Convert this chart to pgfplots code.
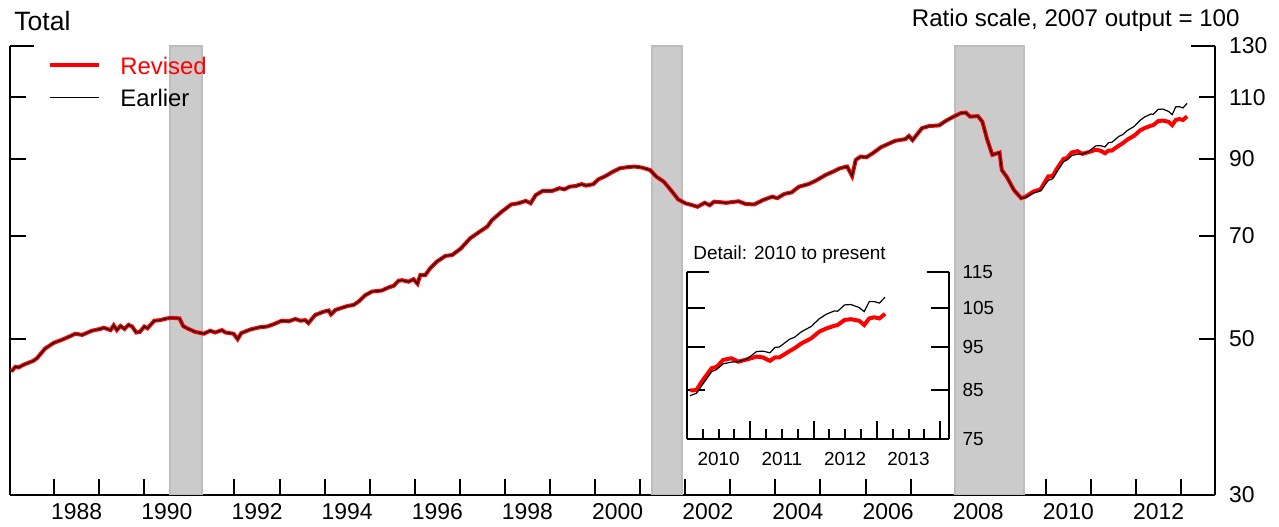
\documentclass[border=0pt]{standalone}
\usepackage{pgfplots}
\pgfplotsset{compat=1.18}
\usepackage{pgfplotstable}
\usepackage{fontspec}
\setmainfont{Liberation Sans}

\definecolor{recess}{HTML}{CBCBCB}
\definecolor{recessedge}{HTML}{BDBDBD}

% index, 2007 output = 100
\pgfplotstableread{
t rev earl
1987.05 44.9 44.9
1987.14 45.6 45.6
1987.21 45.5 45.5
1987.32 45.9 45.9
1987.54 46.5 46.5
1987.62 46.9 46.9
1987.80 48.4 48.4
1987.99 49.3 49.3
1988.17 49.8 49.8
1988.36 50.4 50.4
1988.47 50.8 50.8
1988.62 50.6 50.6
1988.84 51.3 51.3
1989.02 51.6 51.6
1989.10 51.8 51.8
1989.25 51.4 51.4
1989.32 52.2 52.2
1989.39 51.4 51.4
1989.47 52.1 52.1
1989.56 51.6 51.6
1989.65 52.3 52.3
1989.73 52.0 52.0
1989.82 51.0 51.0
1989.90 51.1 51.1
1990.00 52.0 52.0
1990.07 51.7 51.7
1990.22 53.0 53.0
1990.35 53.1 53.1
1990.50 53.4 53.4
1990.61 53.5 53.5
1990.78 53.4 53.4
1990.86 52.1 52.1
1990.95 51.7 51.7
1991.13 51.1 51.1
1991.32 50.8 50.8
1991.46 51.3 51.3
1991.57 51.0 51.0
1991.72 51.4 51.4
1991.80 51.0 51.0
1991.98 50.8 50.8
1992.07 49.9 49.9
1992.15 50.9 50.9
1992.35 51.5 51.5
1992.57 51.9 51.9
1992.72 52.0 52.0
1992.87 52.4 52.4
1993.05 53.0 53.0
1993.20 52.9 52.9
1993.35 53.3 53.3
1993.46 53.0 53.0
1993.57 53.1 53.1
1993.64 52.6 52.6
1993.79 54.0 54.0
1993.98 54.6 54.6
1994.09 54.8 54.8
1994.14 54.1 54.1
1994.24 54.9 54.9
1994.35 55.2 55.2
1994.50 55.6 55.6
1994.64 55.8 55.8
1994.75 56.4 56.4
1994.90 57.6 57.6
1995.05 58.3 58.3
1995.27 58.5 58.5
1995.42 59.1 59.1
1995.53 59.4 59.4
1995.64 60.4 60.4
1995.72 60.5 60.5
1995.86 60.2 60.2
1995.97 60.7 60.7
1996.06 59.8 59.8
1996.12 61.5 61.5
1996.23 61.5 61.5
1996.34 62.9 62.9
1996.49 64.3 64.3
1996.68 65.5 65.5
1996.83 65.7 65.7
1997.02 67.1 67.1
1997.23 69.4 69.4
1997.44 70.9 70.9
1997.61 72.1 72.1
1997.71 73.6 73.6
1997.93 75.7 75.7
1998.14 77.5 77.5
1998.30 77.8 77.8
1998.46 78.4 78.4
1998.57 77.8 77.8
1998.68 79.9 79.9
1998.84 81.0 81.0
1999.05 81.0 81.0
1999.21 81.7 81.7
1999.32 81.4 81.4
1999.43 82.1 82.1
1999.57 82.3 82.3
1999.70 82.8 82.8
1999.80 82.4 82.4
1999.96 82.8 82.8
2000.07 84.1 84.1
2000.23 85.0 85.0
2000.39 86.2 86.2
2000.55 87.2 87.2
2000.71 87.5 87.5
2000.87 87.7 87.7
2001.04 87.4 87.4
2001.22 86.7 86.7
2001.36 84.8 84.8
2001.52 83.5 83.5
2001.68 81.2 81.2
2001.84 78.8 78.8
2002.00 77.8 77.8
2002.16 77.3 77.3
2002.27 76.9 76.9
2002.43 77.9 77.9
2002.54 77.3 77.3
2002.64 78.2 78.2
2002.91 77.9 77.9
2003.18 78.3 78.3
2003.34 77.6 77.6
2003.53 77.5 77.5
2003.72 78.6 78.6
2003.93 79.5 79.5
2004.04 79.1 79.1
2004.20 80.2 80.2
2004.36 80.6 80.6
2004.52 82.1 82.1
2004.73 82.8 82.8
2004.89 83.7 83.7
2005.11 85.3 85.3
2005.27 86.2 86.2
2005.43 87.2 87.2
2005.59 87.7 87.7
2005.70 85.0 85.0
2005.78 89.6 89.6
2005.89 90.6 90.6
2006.02 90.4 90.4
2006.18 91.8 91.8
2006.34 93.4 93.4
2006.50 94.4 94.4
2006.66 95.4 95.4
2006.88 95.9 95.9
2006.96 96.9 96.9
2007.04 95.6 95.6
2007.25 99.4 99.4
2007.41 100.1 100.1
2007.63 100.3 100.3
2007.79 101.9 101.9
2007.95 103.2 103.2
2008.11 104.4 104.4
2008.22 104.6 104.6
2008.32 103.2 103.2
2008.49 103.4 103.4
2008.59 101.5 101.5
2008.70 95.6 95.6
2008.81 91.1 91.1
2008.97 91.8 91.8
2009.02 86.7 86.7
2009.13 84.8 84.8
2009.29 81.2 81.2
2009.45 79.1 79.1
2009.55 79.5 79.3
2009.72 80.8 80.4
2009.88 81.4 81.0
2010.05 84.9 83.8
2010.15 85.0 84.3
2010.23 86.8 85.9
2010.39 89.9 89.1
2010.47 90.2 89.6
2010.57 91.8 90.9
2010.70 92.2 91.3
2010.81 91.4 91.4
2010.94 91.9 92.0
2011.10 92.6 93.8
2011.20 92.4 93.9
2011.31 91.6 93.5
2011.39 92.4 94.8
2011.46 92.4 94.9
2011.62 93.9 96.8
2011.70 94.6 97.3
2011.81 95.8 98.7
2011.96 97.0 100.0
2012.09 98.7 102.0
2012.20 99.5 103.2
2012.33 100.2 104.1
2012.38 100.4 104.0
2012.49 101.7 105.7
2012.59 101.9 105.8
2012.72 101.5 105.0
2012.80 100.4 103.9
2012.88 102.1 106.6
2012.96 102.4 106.6
2013.04 102.1 106.2
2013.13 103.3 107.8
}\ipdata

\begin{document}
\begin{tikzpicture}
\useasboundingbox (0,0) rectangle (639.5bp,263.5bp);

\node[anchor=west, inner sep=0pt, font=\fontsize{13.3}{15}\selectfont] at (7bp,253bp) {Total};
\node[anchor=east, inner sep=0pt, font=\fontsize{12.1}{14}\selectfont] at (620bp,253.5bp) {Ratio scale, 2007 output = 100};

\begin{axis}[
    at={(5bp,16bp)}, anchor=south west,
    scale only axis, width=602.5bp, height=224.5bp,
    xmin=1987.02, xmax=2013.75,
    ymode=log, ymin=30, ymax=130,
    axis x line=bottom, axis y line=box,
    axis line style={-, line width=1bp},
    x axis line style={-}, y axis line style={-},
    tick align=inside,
    tick style={black, line width=1bp},
    major tick length=8bp,
    xtick={1988,...,2013},
    xticklabels={1988,,1990,,1992,,1994,,1996,,1998,,2000,,2002,,2004,,2006,,2008,,2010,,2012,},
    xticklabel style={xshift=11.27bp, yshift=-0.8bp},
    ytick={30,50,70,90,110},
    yticklabels={30,50,70,90,110},
    extra y ticks={130}, extra y tick labels={130},
    extra y tick style={major tick length=12bp},
    ytick pos=both, yticklabel pos=right,
    yticklabel style={xshift=3.5bp},
    tick label style={font=\fontsize{11.5}{13}\selectfont},
    legend style={draw=none, fill=none, inner sep=0pt,
        at={(0.0315,0.9746)}, anchor=north west,
        font=\fontsize{12}{14}\selectfont,
        nodes={inner sep=0pt, text height=8.3bp, text depth=2bp},
        row sep=6bp, column sep=9.5bp},
    legend cell align=left,
    legend image code/.code={\draw[#1] (0bp,1.6bp) -- (24.5bp,1.6bp);},
]
\addplot[fill=recess, draw=recessedge, line width=1bp, forget plot]
    coordinates {(1990.58,30) (1990.58,130) (1991.28,130) (1991.28,30)} -- cycle;
\addplot[fill=recess, draw=recessedge, line width=1bp, forget plot]
    coordinates {(2001.25,30) (2001.25,130) (2001.93,130) (2001.93,30)} -- cycle;
\addplot[fill=recess, draw=recessedge, line width=1bp, forget plot]
    coordinates {(2007.99,30) (2007.99,130) (2009.52,130) (2009.52,30)} -- cycle;

\addplot[red, line width=2bp] table[x=t, y=rev] {\ipdata};
\addplot[black, line width=0.6bp] table[x=t, y=earl] {\ipdata};
\legend{\textcolor{red}{Revised}, Earlier}
\end{axis}

\node[anchor=west, inner sep=0pt, font=\fontsize{9.5}{11}\selectfont] at (346.5bp,136bp) {Detail: 2010 to present};

\begin{axis}[
    at={(343.5bp,44bp)}, anchor=south west,
    scale only axis, width=131bp, height=83.5bp,
    xmin=2010, xmax=2014.14,
    ymode=log, ymin=75, ymax=115,
    axis x line=bottom, axis y line=box,
    axis line style={-, line width=1bp},
    x axis line style={-}, y axis line style={-},
    tick align=inside,
    tick style={black, line width=1bp},
    major tick length=9bp, minor tick length=5bp,
    xtick={2011,2012,2013,2014},
    xticklabels={2010,2011,2012,2013},
    xticklabel style={xshift=-15.83bp, yshift=-3bp},
    minor xtick={2010.25,2010.5,2010.75,2011.25,2011.5,2011.75,2012.25,2012.5,2012.75,2013.25,2013.5,2013.75},
    ytick={75,85,95,105},
    yticklabels={75,85,95,105},
    extra y ticks={115}, extra y tick labels={115},
    extra y tick style={major tick length=11bp},
    ytick pos=both, yticklabel pos=right,
    yticklabel style={xshift=3.3bp},
    tick label style={font=\fontsize{9.5}{11}\selectfont},
]
\addplot[red, line width=2bp, restrict x to domain=2010:2014] table[x=t, y=rev] {\ipdata};
\addplot[black, line width=0.6bp, restrict x to domain=2010:2014] table[x=t, y=earl] {\ipdata};
\end{axis}
\end{tikzpicture}
\end{document}
